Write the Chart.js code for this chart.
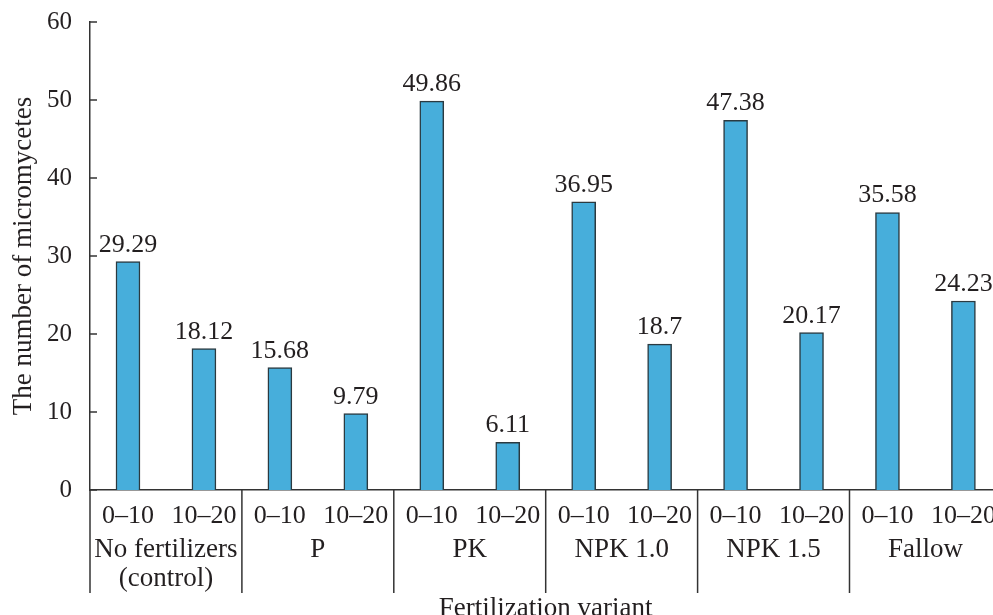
<!DOCTYPE html>
<html>
<head>
<meta charset="utf-8">
<script src="https://cdn.jsdelivr.net/npm/chart.js@4/dist/chart.umd.min.js"></script>
<style>
  html, body { margin: 0; padding: 0; background: #fff; overflow: hidden; width: 993px; height: 615px; }
  #wrap { position: absolute; left: 0; top: 0; width: 1007px; height: 630px; }
</style>
</head>
<body>
<div id="wrap"><canvas id="c" width="1007" height="630"></canvas></div>
<script>
const depthLabels = ['0–10', '10–20', '0–10', '10–20', '0–10', '10–20', '0–10', '10–20', '0–10', '10–20', '0–10', '10–20'];
const groupLabels = [['No fertilizers', '(control)'], ['P'], ['PK'], ['NPK 1.0'], ['NPK 1.5'], ['Fallow']];
const micromycetes = [29.29, 18.12, 15.68, 9.79, 49.86, 6.11, 36.95, 18.7, 47.38, 20.17, 35.58, 24.23];
const yTicks = [0, 10, 20, 30, 40, 50, 60];

const SERIF = '"Liberation Serif", "Times New Roman", serif';
const INK = '#231f20';
const LINE = '#333333';

const decor = {
  id: 'decor',
  afterDraw(chart) {
    const ctx = chart.ctx;
    const area = chart.chartArea;
    const xs = chart.scales.x;
    const ys = chart.scales.y;
    const slot = (area.right - area.left) / depthLabels.length;
    ctx.save();
    ctx.strokeStyle = LINE;
    ctx.lineWidth = 1.5;
    yTicks.forEach(v => {
      const y = ys.getPixelForValue(v);
      ctx.beginPath();
      ctx.moveTo(area.left, y);
      ctx.lineTo(area.left + 7, y);
      ctx.stroke();
    });
    for (let k = 0; k < groupLabels.length; k++) {
      const x = xs.getPixelForValue(2 * k) - slot / 2;
      ctx.beginPath();
      ctx.moveTo(x, area.bottom);
      ctx.lineTo(x, area.bottom + 103);
      ctx.stroke();
    }
    ctx.fillStyle = INK;
    ctx.font = '27px ' + SERIF;
    ctx.textAlign = 'center';
    ctx.textBaseline = 'middle';
    groupLabels.forEach((lines, k) => {
      const cx = (xs.getPixelForValue(2 * k) + xs.getPixelForValue(2 * k + 1)) / 2;
      lines.forEach((t, j) => ctx.fillText(t, cx, area.bottom + 60 + j * 29));
    });
    ctx.font = '26px ' + SERIF;
    ctx.textBaseline = 'alphabetic';
    const meta = chart.getDatasetMeta(0);
    meta.data.forEach((bar, i) => {
      ctx.fillText(String(micromycetes[i]), bar.x, bar.y - 10);
    });
    ctx.restore();
  }
};

new Chart(document.getElementById('c'), {
  type: 'bar',
  data: {
    labels: depthLabels,
    datasets: [{
      data: micromycetes,
      backgroundColor: '#47aedb',
      borderColor: '#2b3a40',
      borderWidth: 1.5,
      barThickness: 24
    }]
  },
  options: {
    responsive: false,
    animation: false,
    events: [],
    layout: { padding: { left: 0, right: 2, top: 22, bottom: 0 } },
    plugins: { legend: { display: false }, tooltip: { enabled: false } },
    scales: {
      x: {
        type: 'category',
        offset: true,
        grid: { display: false, drawTicks: false },
        border: { display: true, color: LINE, width: 1.5 },
        ticks: { color: INK, font: { family: SERIF, size: 26 }, padding: 11, maxRotation: 0, autoSkip: false },
        title: { display: true, text: 'Fertilization variant', color: INK, font: { family: SERIF, size: 27 }, padding: { top: 0, bottom: 5 } },
        afterFit(scale) { scale.height = 140; }
      },
      y: {
        min: 0, max: 60,
        afterBuildTicks(scale) { scale.ticks = yTicks.map(v => ({ value: v })); },
        grid: { display: false, drawTicks: false },
        border: { display: true, color: LINE, width: 1.5 },
        ticks: { color: INK, font: { family: SERIF, size: 25 }, padding: 18 },
        title: { display: true, text: 'The number of micromycetes', color: INK, font: { family: SERIF, size: 27 }, padding: { top: 8, bottom: 0 } },
        afterFit(scale) { scale.width = 90; scale.paddingTop = 10; scale.paddingBottom = 10; }
      }
    }
  },
  plugins: [decor]
});
</script>
</body>
</html>
